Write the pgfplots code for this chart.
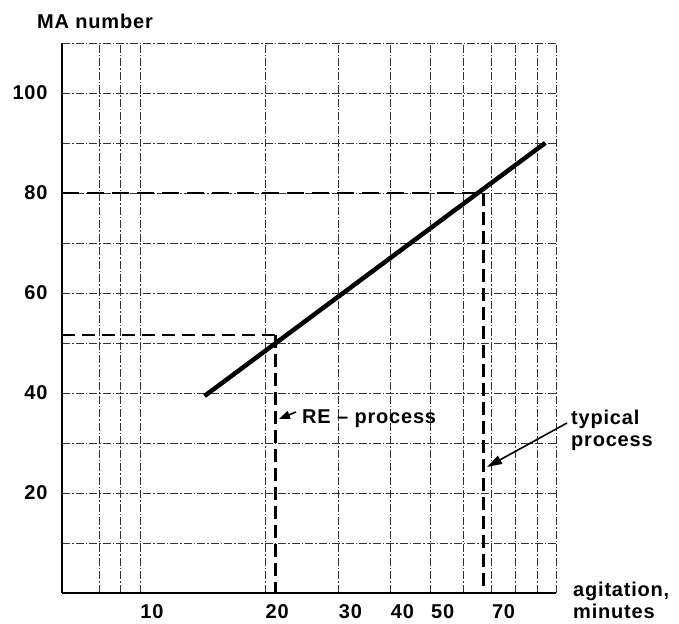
\documentclass[border=0pt]{standalone}
\usepackage{fontspec}
\setmainfont{Liberation Sans}[LetterSpace=4]
\usepackage{pgfplots}
\pgfplotsset{compat=1.18}
\usetikzlibrary{arrows.meta}
\begin{document}
\begin{tikzpicture}[x=1bp,y=1bp]
\useasboundingbox (0,0) rectangle (679,624);
\begin{axis}[
  at={(62bp,31bp)}, anchor=south west,
  scale only axis, width=494bp, height=550bp,
  xmode=log, xmin=6.5, xmax=100, ymin=0, ymax=110,
  axis x line*=bottom, axis y line*=left,
  axis line style={-, line width=2.5bp},
  xtick={10,20,30,40,50,70}, xticklabels={10,20,30,40,50,70},
  minor xtick={8,9,60,80,90,100},
  ytick={20,40,60,80,100},
  minor ytick={10,30,50,70,90,110},
  grid=both,
  major grid style={black!80, line width=0.7bp, dash pattern=on 8bp off 2bp on 1.5bp off 2bp},
  minor grid style={black!80, line width=0.7bp, dash pattern=on 8bp off 2bp on 1.5bp off 2bp},
  major tick length=0pt, minor tick length=0pt,
  tick label style={font=\fontsize{20bp}{22bp}\selectfont\bfseries},
  /pgf/number format/assume math mode=true,
  xticklabel style={yshift=-8bp, xshift=12bp},
  yticklabel style={xshift=-11bp},
  clip=false,
]
\addplot[black, line width=4.5bp, line cap=butt] coordinates {(14.3,39.4) (94.2,90)};
\addplot[black, line width=2.5bp, dash pattern=on 17bp off 8bp] coordinates {(6.5,80) (67,80)};
\addplot[black, line width=2.5bp, dash pattern=on 13bp off 6bp] coordinates {(67,80) (67,0)};
\addplot[black, line width=2.5bp, dash pattern=on 13bp off 7bp] coordinates {(6.5,51.6) (21.2,51.6)};
\addplot[black, line width=2.5bp, dash pattern=on 13bp off 6bp] coordinates {(21.2,51.6) (21.2,0)};
\end{axis}
\fontsize{20bp}{22bp}\selectfont\bfseries
\node[anchor=base west, inner sep=0] at (37,595) {MA number};
\node[anchor=base west, inner sep=0] at (302,200) {RE – process};
\node[anchor=base west, inner sep=0] at (571,199) {typical};
\node[anchor=base west, inner sep=0] at (571,177) {process};
\node[anchor=base west, inner sep=0] at (573,27) {agitation,};
\node[anchor=base west, inner sep=0] at (573,5) {minutes};
\draw[line width=1.6bp, -{Triangle[length=15bp,width=9bp]}] (567,201) -- (487,157);
\draw[line width=1.6bp, -{Triangle[length=11bp,width=8bp]}] (296,212) -- (279,205);
\end{tikzpicture}
\end{document}
